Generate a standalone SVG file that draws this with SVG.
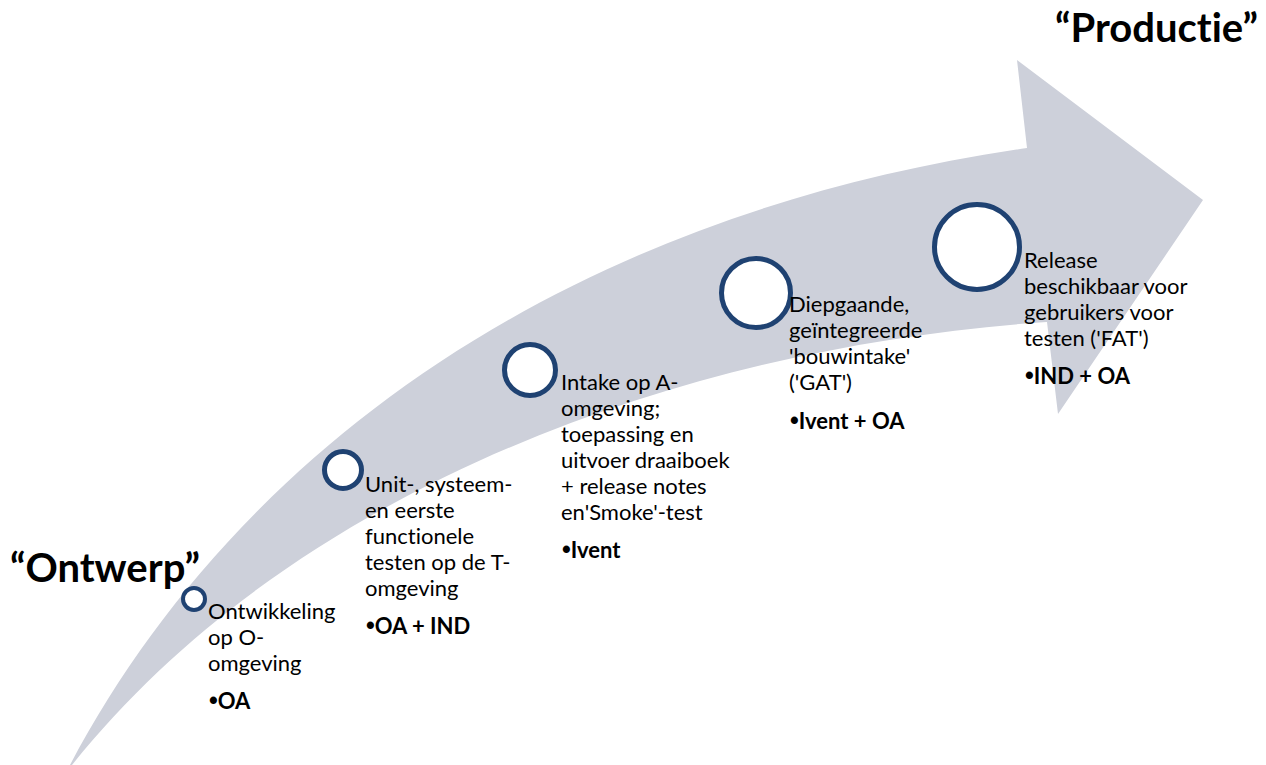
<svg xmlns="http://www.w3.org/2000/svg" width="1266" height="765" viewBox="0 0 1266 765">
<style>
.ring{fill:#fff;stroke:#1f4272}
.t{font-family:Lato,"Liberation Sans",sans-serif;font-size:22px;fill:#000;font-variant-ligatures:none;font-feature-settings:"liga" 0}
.b{font-weight:bold}
.bu{font-family:"Liberation Sans",sans-serif;font-weight:bold;font-size:25px}
.title{font-family:Lato,"Liberation Sans",sans-serif;font-size:40px;font-weight:bold;fill:#000;font-variant-ligatures:none;font-feature-settings:"liga" 0}
</style>
<rect width="1266" height="765" fill="#fff"/>
<g id="arrow">
<path d="M70,765 C220,480 530,220 1027,148 L1017,60 L1203,200 L1058,414 L1047,322 C700,345 300,480 72,765 Z" fill="#cdd0da"/>
</g>
<g id="title-ontwerp"><text class="title" x="10" y="582">“Ontwerp”</text></g>
<g id="title-productie"><text class="title" x="1055" y="42">“Productie”</text></g>
<g id="step1">
<circle class="ring" cx="194" cy="599" r="11" stroke-width="4"/>
<text class="t"><tspan x="208" y="619">Ontwikkeling</tspan><tspan x="208" y="645">op O-</tspan><tspan x="208" y="671">omgeving</tspan><tspan class="b" x="209" y="709"><tspan class="bu">•</tspan>OA</tspan></text>
</g>
<g id="step2">
<circle class="ring" cx="343" cy="470" r="18.5" stroke-width="5"/>
<text class="t"><tspan x="365" y="492">Unit-, systeem-</tspan><tspan x="365" y="518">en eerste</tspan><tspan x="365" y="544">functionele</tspan><tspan x="365" y="570">testen op de T-</tspan><tspan x="365" y="596">omgeving</tspan><tspan class="b" x="366" y="634"><tspan class="bu">•</tspan>OA + IND</tspan></text>
</g>
<g id="step3">
<circle class="ring" cx="530" cy="370" r="25.5" stroke-width="5"/>
<text class="t"><tspan x="561" y="390">Intake op A-</tspan><tspan x="561" y="416">omgeving;</tspan><tspan x="561" y="442">toepassing en</tspan><tspan x="561" y="468">uitvoer draaiboek</tspan><tspan x="561" y="494">+ release notes</tspan><tspan x="561" y="520">en'Smoke'-test</tspan><tspan class="b" x="562" y="558"><tspan class="bu">•</tspan>Ivent</tspan></text>
</g>
<g id="step4">
<circle class="ring" cx="756" cy="293" r="34.5" stroke-width="5"/>
<text class="t"><tspan x="789" y="312">Diepgaande,</tspan><tspan x="789" y="338">geïntegreerde</tspan><tspan x="789" y="364">'bouwintake'</tspan><tspan x="789" y="390">('GAT')</tspan><tspan class="b" x="790" y="429"><tspan class="bu">•</tspan>Ivent + OA</tspan></text>
</g>
<g id="step5">
<circle class="ring" cx="977" cy="247" r="42.5" stroke-width="5"/>
<text class="t"><tspan x="1024" y="268">Release</tspan><tspan x="1024" y="294">beschikbaar voor</tspan><tspan x="1024" y="320">gebruikers voor</tspan><tspan x="1024" y="346">testen ('FAT')</tspan><tspan class="b" x="1025" y="384"><tspan class="bu">•</tspan>IND + OA</tspan></text>
</g>
</svg>
